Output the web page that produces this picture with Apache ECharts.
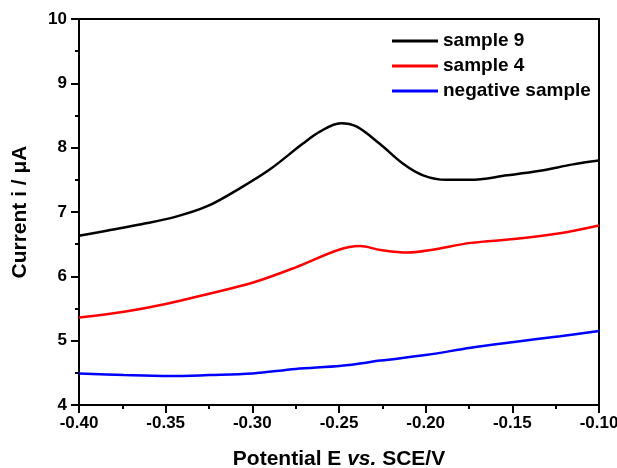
<!DOCTYPE html>
<html>
<head>
<meta charset="utf-8">
<script src="https://cdn.jsdelivr.net/npm/echarts@6/dist/echarts.min.js"></script>
<style>html,body{margin:0;padding:0;background:#fff;}#c{width:617px;height:468px;}</style>
</head>
<body>
<div id="c"></div>
<script>
var xBlack = [-0.40, -0.384, -0.364, -0.345, -0.326, -0.3065, -0.29, -0.271, -0.261, -0.249, -0.240, -0.2265, -0.213, -0.2015, -0.188, -0.1745, -0.153, -0.134, -0.115, -0.10];
var yBlack = [6.63, 6.71, 6.81, 6.92, 7.09, 7.38, 7.66, 8.06, 8.25, 8.38, 8.33, 8.06, 7.75, 7.57, 7.50, 7.50, 7.57, 7.64, 7.74, 7.80];
var xRed = [-0.40, -0.374, -0.350, -0.325, -0.300, -0.275, -0.2505, -0.238, -0.226, -0.2104, -0.197, -0.174, -0.149, -0.1225, -0.10];
var yRed = [5.36, 5.45, 5.57, 5.73, 5.90, 6.14, 6.41, 6.47, 6.41, 6.37, 6.41, 6.52, 6.58, 6.67, 6.79];
var xBlue = [-0.40, -0.374, -0.3476, -0.325, -0.300, -0.275, -0.2486, -0.226, -0.199, -0.174, -0.149, -0.1225, -0.10];
var yBlue = [4.49, 4.465, 4.45, 4.465, 4.49, 4.56, 4.61, 4.69, 4.78, 4.89, 4.98, 5.07, 5.15];
var seriesNames = ['sample 9', 'sample 4', 'negative sample'];

function pairs(xs, ys) { return xs.map(function (x, i) { return [x, ys[i]]; }); }

var FONT = '"Liberation Sans", Arial, sans-serif';
var chart = echarts.init(document.getElementById('c'), null, {renderer: 'canvas'});
var lineCommon = {type: 'line', smooth: 0.35, symbol: 'none'};
chart.setOption({
  backgroundColor: '#fff',
  animation: false,
  grid: {left: 79, right: 18, top: 19, bottom: 63, containLabel: false, outerBoundsMode: 'none'},
  legend: {
    orient: 'vertical', left: 387, top: 26,
    icon: 'rect', itemWidth: 46, itemHeight: 3, itemGap: 5,
    textStyle: {fontFamily: FONT, fontWeight: 'bold', fontSize: 19, color: '#000', lineHeight: 20},
    data: seriesNames
  },
  xAxis: [{
    type: 'value', min: -0.40, max: -0.10, interval: 0.05,
    name: '{a|Potential E }{b|vs.}{a| SCE/V}', nameLocation: 'middle', nameGap: 44,
    nameTextStyle: {rich: {
      a: {fontFamily: FONT, fontWeight: 'bold', fontSize: 21, color: '#000'},
      b: {fontFamily: FONT, fontWeight: 'bold', fontStyle: 'italic', fontSize: 21, color: '#000'}
    }},
    axisLine: {lineStyle: {color: '#000', width: 2}},
    axisTick: {length: 8, lineStyle: {width: 2, color: '#000'}},
    minorTick: {show: true, splitNumber: 2, length: 4, lineStyle: {width: 2, color: '#000'}},
    splitLine: {show: false},
    axisLabel: {fontFamily: FONT, fontWeight: 'bold', fontSize: 17, color: '#000', margin: 10,
      formatter: function (v) { return v.toFixed(2); }}
  }, {
    type: 'value', min: -0.40, max: -0.10, position: 'top',
    axisLine: {show: true, onZero: false, lineStyle: {color: '#000', width: 2}},
    axisTick: {show: false}, axisLabel: {show: false}, splitLine: {show: false}
  }],
  yAxis: [{
    type: 'value', min: 4, max: 10, interval: 1,
    name: 'Current i / μA', nameLocation: 'middle', nameGap: 48, nameRotate: 90,
    nameTextStyle: {fontFamily: FONT, fontWeight: 'bold', fontSize: 21, color: '#000'},
    axisLine: {show: true, lineStyle: {color: '#000', width: 2}},
    axisTick: {length: 8, lineStyle: {width: 2, color: '#000'}},
    minorTick: {show: true, splitNumber: 2, length: 4, lineStyle: {width: 2, color: '#000'}},
    splitLine: {show: false},
    axisLabel: {fontFamily: FONT, fontWeight: 'bold', fontSize: 17, color: '#000', margin: 12}
  }, {
    type: 'value', min: 4, max: 10, position: 'right',
    axisLine: {show: true, lineStyle: {color: '#000', width: 2}},
    axisTick: {show: false}, axisLabel: {show: false}, splitLine: {show: false}
  }],
  series: [
    Object.assign({}, lineCommon, {name: seriesNames[0], data: pairs(xBlack, yBlack), lineStyle: {width: 2.5, color: '#000000'}, itemStyle: {color: '#000000'}}),
    Object.assign({}, lineCommon, {name: seriesNames[1], data: pairs(xRed, yRed), lineStyle: {width: 2.5, color: '#ff0000'}, itemStyle: {color: '#ff0000'}}),
    Object.assign({}, lineCommon, {name: seriesNames[2], data: pairs(xBlue, yBlue), lineStyle: {width: 2.5, color: '#0000ff'}, itemStyle: {color: '#0000ff'}})
  ]
});
</script>
</body>
</html>
